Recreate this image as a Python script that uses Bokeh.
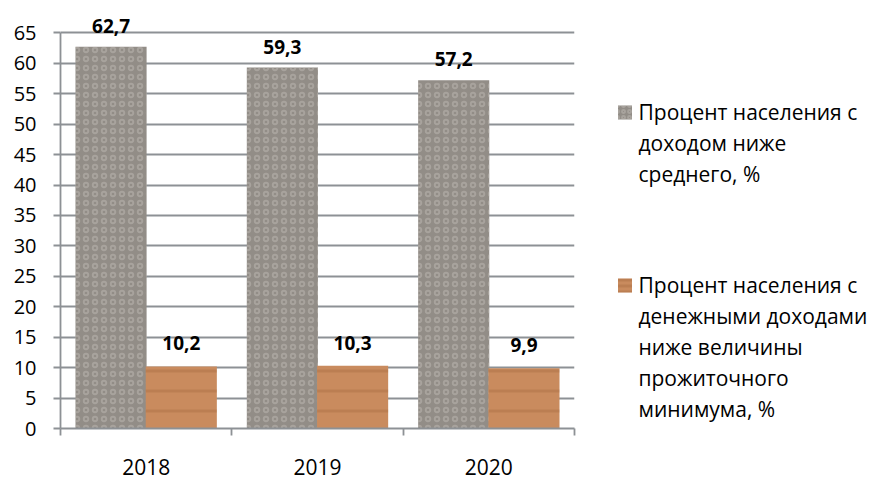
from bokeh.plotting import figure
from bokeh.layouts import row
from bokeh.models import (Range1d, FixedTicker, ColumnDataSource, LabelSet)
from bokeh.transform import dodge
from bokeh.core.properties import value
from bokeh.embed import file_html
from bokeh.resources import INLINE

years = ["2018", "2019", "2020"]
below_avg = [62.7, 59.3, 57.2]
below_min = [10.2, 10.3, 9.9]
below_avg_labels = ["62,7", "59,3", "57,2"]
below_min_labels = ["10,2", "10,3", "9,9"]
series_names = [
    ["Процент населения с", "доходом ниже", "среднего, %"],
    ["Процент населения с", "денежными доходами", "ниже величины", "прожиточного", "минимума, %"],
]
y_ticks = list(range(0, 70, 5))

FONT = "Open Sans"
GRID = "#8d9195"
GRAY = "#928d87"
GRAY_HATCH = "#c4bfb8"
ORANGE = "#c98b5e"
ORANGE_HATCH = "#9a5f36"

centers = [i + 0.5 for i in range(len(years))]
bounds = list(range(len(years) + 1))
src = ColumnDataSource(dict(x=centers, a=below_avg, b=below_min,
                            al=below_avg_labels, bl=below_min_labels))

H = 480
TOP, BOTTOM = 8, 52
p = figure(x_range=Range1d(0, len(years)), y_range=Range1d(0, 69),
           width=578, height=H, output_backend="svg", toolbar_location=None,
           min_border_left=60, min_border_right=4,
           min_border_top=TOP, min_border_bottom=BOTTOM)
p.outline_line_color = None

gray_style = dict(fill_color=GRAY, line_color=None, hatch_pattern="ring",
                  hatch_color=GRAY_HATCH, hatch_scale=9, hatch_weight=1.8, hatch_alpha=0.45)
orange_style = dict(fill_color=ORANGE, line_color=None, hatch_pattern="horizontal_line",
                    hatch_color=ORANGE_HATCH, hatch_scale=20, hatch_weight=3, hatch_alpha=0.3)

# bars
p.vbar(x=dodge("x", -0.205), top="a", width=0.415, source=src, **gray_style)
p.vbar(x=dodge("x", 0.205), top="b", width=0.415, source=src, **orange_style)

# data labels
for col, lab, off, yoff in (("a", "al", -0.205, 14), ("b", "bl", 0.205, 16)):
    p.add_layout(LabelSet(x=dodge("x", off), y=col, text=lab, source=src,
                          text_align="center", text_baseline="bottom", y_offset=yoff,
                          text_font=value(FONT), text_font_style="bold",
                          text_font_size="19px", text_color="#000000"))

# y axis
p.yaxis.ticker = FixedTicker(ticks=y_ticks)
p.yaxis.bounds = (0, 65)
p.yaxis.axis_line_color = GRID
p.yaxis.axis_line_width = 1.8
p.yaxis.major_tick_line_color = GRID
p.yaxis.major_tick_line_width = 1.8
p.yaxis.major_tick_out = 7
p.yaxis.major_tick_in = 0
p.yaxis.minor_tick_line_color = None
p.yaxis.major_label_text_font = FONT
p.yaxis.major_label_text_font_size = "20px"
p.yaxis.major_label_text_color = "#000000"
p.yaxis.major_label_standoff = 17
p.ygrid.ticker = FixedTicker(ticks=y_ticks)
p.ygrid.grid_line_color = GRID
p.ygrid.grid_line_width = 1.8
p.xgrid.grid_line_color = None

# x axis: year labels at centres, tick marks at category boundaries
p.xaxis.ticker = FixedTicker(ticks=centers, minor_ticks=bounds)
p.xaxis.major_label_overrides = {c: y for c, y in zip(centers, years)}
p.xaxis.axis_line_color = GRID
p.xaxis.axis_line_width = 1.8
p.xaxis.major_tick_line_color = None
p.xaxis.major_tick_out = 0
p.xaxis.major_tick_in = 0
p.xaxis.minor_tick_line_color = GRID
p.xaxis.minor_tick_line_width = 1.8
p.xaxis.minor_tick_out = 7
p.xaxis.minor_tick_in = 0
p.xaxis.major_label_text_font = FONT
p.xaxis.major_label_text_font_size = "21px"
p.xaxis.major_label_text_color = "#000000"
p.xaxis.major_label_standoff = 23

# legend panel (separate figure, frame aligned with the chart's frame)
lg = figure(x_range=Range1d(0, 294), y_range=Range1d(H - BOTTOM, TOP), width=294, height=H,
            output_backend="svg", toolbar_location=None,
            x_axis_location=None, y_axis_location=None,
            min_border_left=0, min_border_right=0,
            min_border_top=TOP, min_border_bottom=BOTTOM)
lg.outline_line_color = None
lg.grid.visible = False

styles = [gray_style, orange_style]
block_top = [111, 284]
step = 31
for names, st, y0 in zip(series_names, styles, block_top):
    mk = dict(st)
    mk.update(hatch_scale=6)
    lg.scatter(x=[46.5], y=[y0 + 1], marker="square", size=14, **mk)
    lg.text(x=[60] * len(names), y=[y0 + i * step for i in range(len(names))], text=names,
            text_font=value(FONT), text_font_size="21px", text_color="#000000",
            text_baseline="middle", text_align="left")

layout = row(p, lg)
open("out.html", "w").write(file_html(layout, INLINE))
